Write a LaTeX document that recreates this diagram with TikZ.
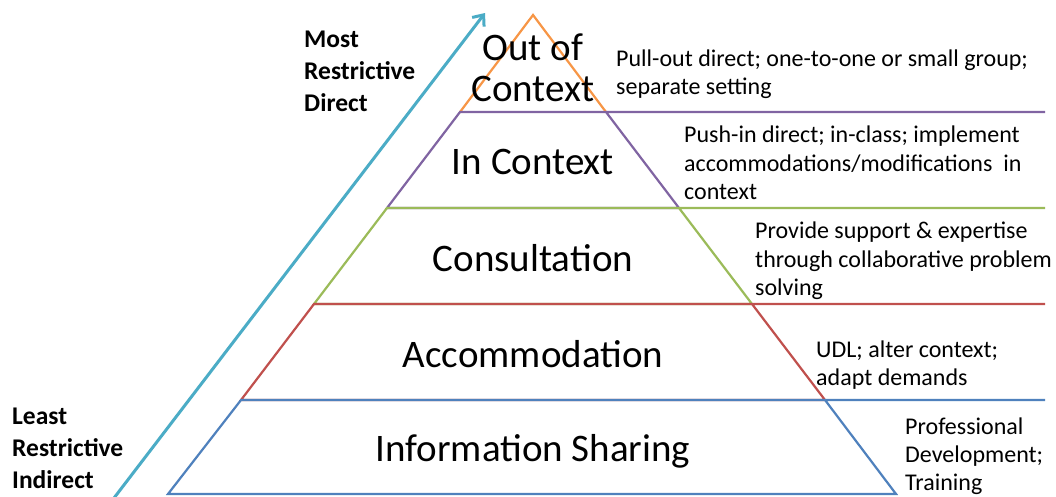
\documentclass[tikz,border=0pt]{standalone}
\usepackage{fontspec}
\setmainfont{Carlito}
\usetikzlibrary{arrows.meta}
\definecolor{cOrange}{HTML}{F79646}
\definecolor{cPurple}{HTML}{8064A2}
\definecolor{cGreen}{HTML}{9BBB59}
\definecolor{cRed}{HTML}{C0504D}
\definecolor{cBlue}{HTML}{4F81BD}
\definecolor{cCyan}{HTML}{4BACC6}
\begin{document}
\begin{tikzpicture}[x=1pt,y=-1pt,
  tier/.style={line width=2.2pt, line join=miter},
  tierlabel/.style={inner sep=0pt, align=center, font=\fontsize{39}{41}\selectfont},
  sidetext/.style={inner sep=0pt, anchor=west, align=left, font=\fontsize{24}{28.5}\selectfont},
  boldtext/.style={inner sep=0pt, anchor=west, align=left, font=\bfseries\fontsize{25.5}{32}\selectfont},
  scalearrow/.style={draw=cCyan, line width=3pt, -{Straight Barb[length=9pt,width=15pt,line width=3pt]}}]
\useasboundingbox (0,0) rectangle (1056,496);
\fill[white] (0,0) rectangle (1056,496);

% pyramid tiers
\draw[tier, cOrange] (460,112) -- (533,15) -- (606,112);
\draw[tier, cPurple] (1045,112) -- (460,112) -- (387,208) -- (679,208) -- (606,112);
\draw[tier, cGreen] (1045,208) -- (387,208) -- (314,304) -- (752,304) -- (679,208);
\draw[tier, cRed] (1045,304) -- (314,304) -- (241,400) -- (825,400) -- (752,304);
\draw[tier, cBlue] (1045,400) -- (241,400) -- (168,494) -- (896,494) -- (825,400);

% scale arrow
\coordinate (arrowlow) at (114,498);
\coordinate (arrowhigh) at (485,13);
\draw[scalearrow] (arrowlow) -- (arrowhigh);

% tier labels
\node[tierlabel] (outof) at (533,68) {Out of\\Context};
\node[tierlabel] (incontext) at (533,162) {In Context};
\node[tierlabel] (consult) at (533,258) {Consultation};
\node[tierlabel] (accom) at (533,354) {Accommodation};
\node[tierlabel] (info) at (533,451) {Information Sharing};

% side descriptions
\node[sidetext] (pull) at (616,74) {Pull-out direct; one-to-one or small group;\\separate setting};
\node[sidetext] (push) at (684,163) {Push-in direct; in-class; implement\\accommodations/modifications\ \ in\\context};
\node[sidetext] (prov) at (755,261) {Provide support \& expertise\\through collaborative problem\\solving};
\node[sidetext] (udl) at (816,365) {UDL; alter context;\\adapt demands};
\node[sidetext, font=\fontsize{24}{28}\selectfont] (prof) at (905,456) {Professional\\Development;\\Training};

% scale labels
\node[boldtext] (most) at (304,71) {Most\\Restrictive\\Direct};
\node[boldtext] (least) at (12,448) {Least\\Restrictive\\Indirect};
\end{tikzpicture}
\end{document}
